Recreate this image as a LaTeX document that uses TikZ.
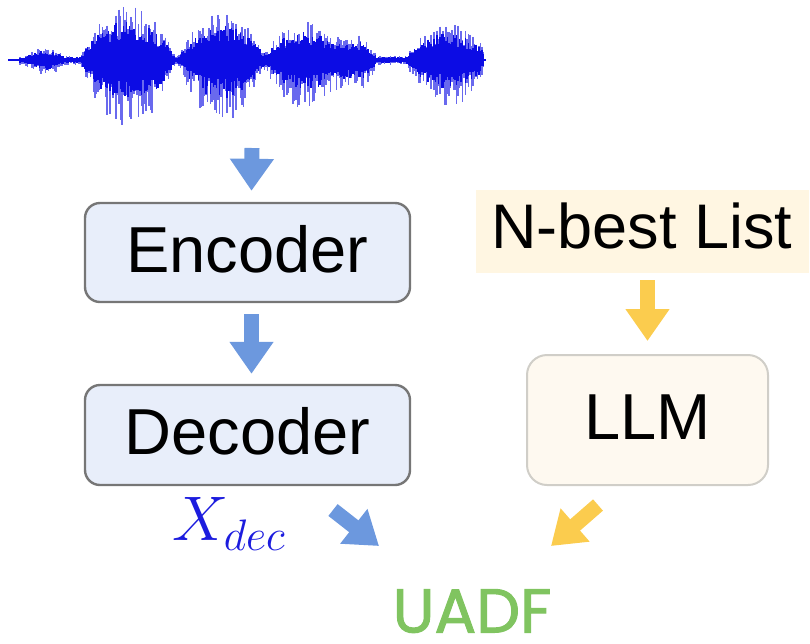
\RequirePackage{fix-cm}
\documentclass[tikz,border=0pt]{standalone}
\usepackage{fontspec}
\setmainfont{Liberation Sans}
\newfontfamily\uadffont{Poppins}[FakeBold=1.6]
\usetikzlibrary{positioning,arrows.meta,calc}

\definecolor{wavedark}{RGB}{12,12,228}
\definecolor{wavelight}{RGB}{105,105,238}
\definecolor{arrowblue}{RGB}{108,152,222}
\definecolor{arrowyellow}{RGB}{251,204,78}
\definecolor{asrfill}{RGB}{232,238,250}
\definecolor{asrdraw}{RGB}{118,118,118}
\definecolor{llmfill}{RGB}{254,249,240}
\definecolor{llmdraw}{RGB}{208,206,200}
\definecolor{nbestfill}{RGB}{255,246,226}
\definecolor{xdeccol}{RGB}{28,28,222}
\definecolor{uadfcol}{RGB}{128,196,96}

\tikzset{
  asrbox/.style={draw=asrdraw, fill=asrfill, line width=2.4pt, rounded corners=15pt,
    minimum width=325pt, minimum height=99pt, text height=47pt, text depth=8pt,
    font=\fontsize{65}{70}\selectfont},
  llmbox/.style={draw=llmdraw, fill=llmfill, line width=2pt, rounded corners=20pt,
    minimum width=241pt, minimum height=130pt, text height=47pt, text depth=8pt,
    font=\fontsize{65}{70}\selectfont},
  fatarrow/.style={line width=15pt, -{Triangle[length=32pt 0 0, width=42pt 0 0]}},
}

\begin{document}
\begin{tikzpicture}[x=1pt, y=-1pt,
  declare function={bump(\p,\c,\w)=max(0,1-((\p-\c)/\w)*((\p-\c)/\w));}]

\useasboundingbox (0,0) rectangle (810,643);

% speech waveform
\pgfmathsetseed{11}
\draw[wavedark, line width=1.5pt] (8,60) -- (486,60);
\foreach \x in {20,21.5,...,484}{
  \pgfmathsetmacro\env{4 + 9*bump(\x,45,20) + 50*bump(\x,128,48) + 44*bump(\x,222,44)
    + 34*bump(\x,305,42) + 22*bump(\x,355,22) + 32*bump(\x,448,42)}
  \pgfmathsetmacro\up{\env*(0.35+0.65*rnd)}
  \pgfmathsetmacro\dn{1.3*\env*(0.35+0.65*rnd)}
  \draw[wavelight, line width=1.2pt] (\x,60-\up) -- (\x,60+\dn);
  \pgfmathsetmacro\upc{0.75*\env*(0.5+0.5*rnd)}
  \pgfmathsetmacro\dnc{0.8*\env*(0.5+0.5*rnd)}
  \draw[wavedark, line width=1.2pt] (\x,60-\upc) -- (\x,60+\dnc);
}
\coordinate (wavefoot) at (252,148);

% ASR branch
\node[asrbox] (enc) at (247.5,252.5) {Encoder};
\node[asrbox, minimum height=100pt] (dec) at (247.5,435) {Decoder};

% LLM branch
\node[fill=nbestfill, minimum width=333pt, minimum height=83pt,
  text height=46pt, text depth=13pt, font=\fontsize{63}{70}\selectfont]
  (nbest) at (642,231.5) {N-best List};
\node[llmbox] (llm) at (647.5,420) {LLM};

% fusion
\node[text=xdeccol, font=\fontsize{63}{70}\selectfont] (xdec) at (229,524) {$X_{dec}$};
\node[text=uadfcol, text height=45pt, text depth=0pt, inner sep=0pt,
  font=\uadffont\fontsize{62}{66}\selectfont] (uadf) at (472,610) {UADF};

\coordinate (bluetail) at (333,510);
\coordinate (bluehead) at (379,546);
\coordinate (yellowtail) at (598,505);
\coordinate (yellowhead) at (551,546);

\draw[fatarrow, arrowblue] (wavefoot) -- ($(enc.north)+(4,-11)$);
\draw[fatarrow, arrowblue, shorten <=11pt, shorten >=10pt] ($(enc.south)+(4,0)$) -- ($(dec.north)+(4,0)$);
\draw[fatarrow, arrowyellow, shorten <=7pt, shorten >=13pt] (nbest.south -| llm.north) -- (llm.north);
\draw[fatarrow, arrowblue] (bluetail) -- (bluehead);
\draw[fatarrow, arrowyellow] (yellowtail) -- (yellowhead);
\end{tikzpicture}
\end{document}
